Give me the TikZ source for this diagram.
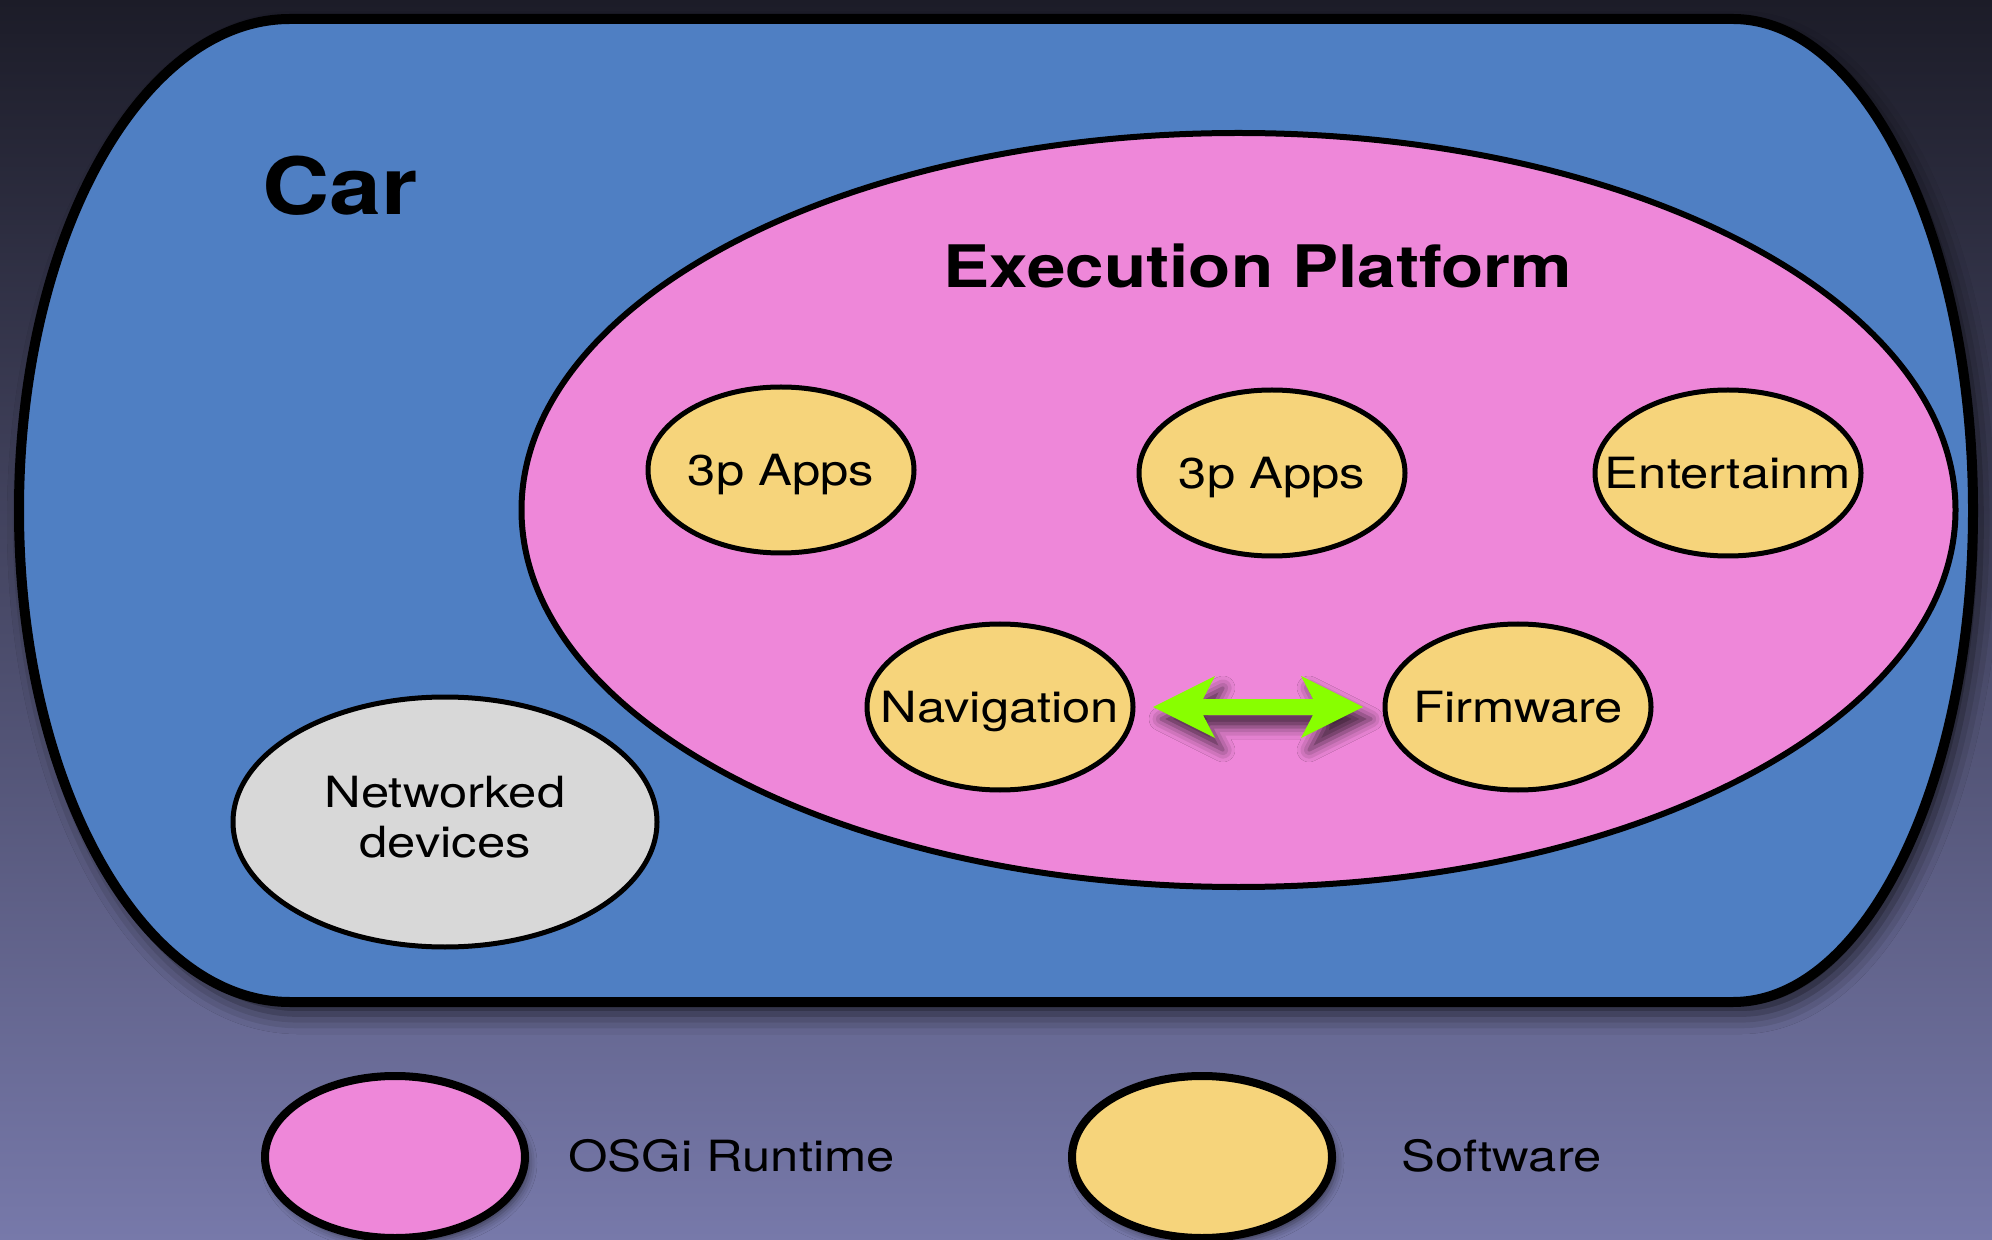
\documentclass[tikz,border=0pt]{standalone}
\usepackage{fontspec}
\setmainfont{TeX Gyre Heros}
\usepackage{graphicx}
\usetikzlibrary{shapes.geometric,shadows.blur,calc}
\definecolor{bgtop}{HTML}{1C1C28}
\definecolor{bgbot}{HTML}{7779AA}
\definecolor{carblue}{HTML}{4F7FC3}
\definecolor{eppink}{HTML}{EE87D9}
\definecolor{swyellow}{HTML}{F6D47B}
\definecolor{ndgray}{HTML}{D8D8D8}
\definecolor{arrgreen}{HTML}{88FF00}
\newcommand\wx[1]{\scalebox{1.18}[1]{#1}}
\newcommand\tx[1]{\makebox[0pt]{\raisebox{0pt}[\height][0pt]{\scalebox{1.18}[1]{#1}}}}
\begin{document}
\begin{tikzpicture}[x=0.5pt,y=-0.5pt,
  regfont/.style={font=\fontsize{21.5}{23.5}\selectfont},
  swnode/.style={ellipse, draw=black, line width=2.5pt, fill=swyellow,
    minimum width=133pt, minimum height=83pt, inner sep=0pt, regfont},
  ndnode/.style={ellipse, draw=black, line width=2.5pt, fill=ndgray,
    minimum width=212pt, minimum height=125pt, inner sep=0pt, regfont},
  epnode/.style={ellipse, draw=black, line width=3pt, fill=eppink,
    minimum width=717pt, minimum height=377pt, inner sep=0pt},
  lgnode/.style={ellipse, draw=black, line width=4pt,
    minimum width=130pt, minimum height=81pt, inner sep=0pt,
    blur shadow={shadow xshift=2pt, shadow yshift=-3pt, shadow blur radius=4pt, shadow opacity=50}},
  lgtext/.style={anchor=base west, inner sep=0pt, regfont},
  title/.style={anchor=base, inner sep=0pt}
]
\useasboundingbox (0,0) rectangle (1992,1240);
\shade[top color=bgtop, bottom color=bgbot] (0pt,0pt) rectangle (996pt,-620pt);

% car outline
\draw[line width=5pt, fill=carblue,
  blur shadow={shadow xshift=4pt, shadow yshift=-6pt, shadow blur radius=10pt, shadow opacity=70}]
  (290,19) -- (1733,19)
  arc[start angle=-90, end angle=90, x radius=240, y radius=491.5]
  -- (290,1002)
  arc[start angle=90, end angle=270, x radius=271, y radius=491.5]
  -- cycle;

\node[title, font=\fontsize{39.5}{40}\selectfont\bfseries] (cartitle) at (340,215) {\wx{Car}};

\node[epnode] (ep) at (1238.5,510) {};
\node[title, font=\fontsize{29.3}{30}\selectfont\bfseries] (eptitle) at (1258,288) {\wx{Execution Platform}};

\node[swnode] (apps1) at (781,470) {\tx{3p Apps}};
\node[swnode] (apps2) at (1272,473) {\tx{3p Apps}};
\node[swnode] (ent) at (1728,473) {\tx{Entertainm}};
\node[swnode] (nav) at (1000,707) {\tx{Navigation}};
\node[swnode] (fw) at (1518,707) {\tx{Firmware}};

\node[ndnode] (net) at (445,822) {\makebox[0pt]{\scalebox{1.18}[1]{\fontsize{21.5}{25}\selectfont\begin{tabular}{@{}c@{}}Networked\\devices\end{tabular}}}};

% double arrow
\coordinate (aL) at ($(nav.center)+(76.5pt,0pt)$);
\coordinate (aR) at ($(fw.center)+(-77.5pt,0pt)$);
\fill[arrgreen, blur shadow={shadow xshift=4pt, shadow yshift=-6pt, shadow blur radius=6pt, shadow opacity=70}]
  (aL) -- ++(31pt,15.5pt) -- ++(-6pt,-11.5pt) -- ($(aR)+(-25pt,4pt)$)
  -- ++(-6pt,11.5pt) -- (aR) -- ++(-31pt,-15.5pt) -- ++(6pt,11.5pt)
  -- ($(aL)+(25pt,-4pt)$) -- ++(6pt,-11.5pt) -- cycle;

% legend
\node[lgnode, fill=eppink] (lgp) at (395,1157) {};
\node[lgtext] (lgptext) at (568,1171) {\wx{OSGi Runtime}};
\node[lgnode, fill=swyellow] (lgy) at (1202,1157) {};
\node[lgtext] (lgytext) at (1401,1171) {\wx{Software}};
\end{tikzpicture}
\end{document}
